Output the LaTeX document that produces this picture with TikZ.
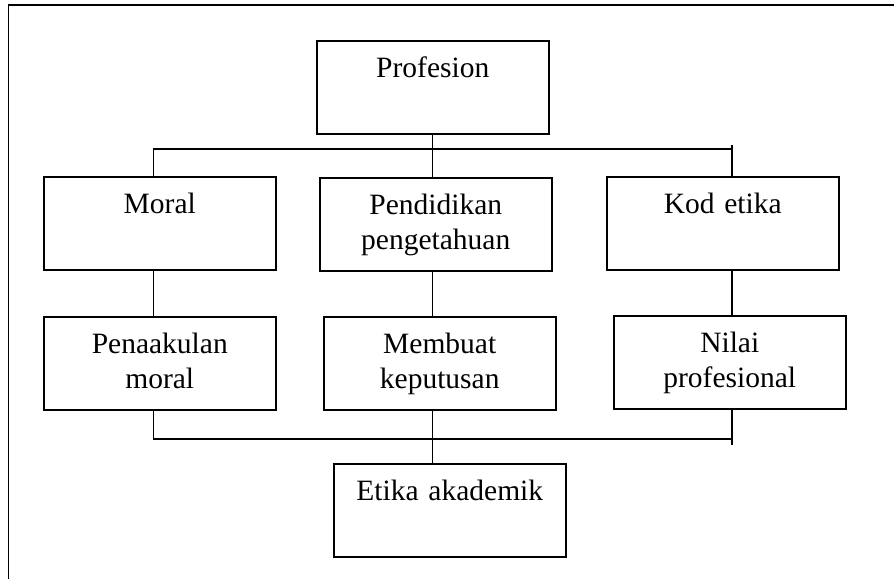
\documentclass[tikz,border=0pt]{standalone}
\usepackage{fontspec}
\setmainfont{Liberation Serif}
\tikzset{
  kotak/.style={draw,line width=1.5pt,inner sep=0pt,text width=232pt,align=center,
    text height=37pt,text depth=56pt,anchor=north west,
    font=\fontsize{29.5}{35}\selectfont},
  garis/.style={line width=1.4pt}
}
\begin{document}
\begin{tikzpicture}[x=1pt,y=-1pt]
      \useasboundingbox (0,0) rectangle (894,579);
      \draw[line width=1.5pt] (8.5,579) -- (8.5,5) -- (894,5);
      \node[kotak] (profesion) at (316,40) {Profesion};
      \node[kotak] (moral) at (43,176) {Moral};
      \node[kotak] (pendidikan) at (319,177) {Pendidikan\\pengetahuan};
      \node[kotak] (kod) at (606,176) {Kod etika};
      \node[kotak] (penaakulan) at (43,316) {Penaakulan\\moral};
      \node[kotak] (membuat) at (323,316) {Membuat\\keputusan};
      \node[kotak] (nilai) at (613,315) {Nilai\\profesional};
      \node[kotak] (etika) at (333,463) {Etika akademik};
      \coordinate (kiri) at (153.5,149);
      \coordinate (tengah) at (432.7,149);
      \coordinate (kanan) at (732,149);
      \coordinate (bawah) at (0,439);
      \draw[garis] (profesion.south -| tengah) -- (pendidikan.north -| tengah);
      \draw[garis] (moral.north -| kiri) -- (kiri) -- (kanan);
      \draw[garis] (kod.north -| kanan) -- ++(0,-31);
      \foreach \atas/\bawah/\x in {moral/penaakulan/kiri,pendidikan/membuat/tengah,kod/nilai/kanan}{
      \draw[garis] (\atas.south -| \x) -- (\bawah.north -| \x);
      }
      \draw[garis] (penaakulan.south -| kiri) -- (kiri |- bawah) -- (kanan |- bawah);
      \draw[garis] (nilai.south -| kanan) -- ++(0,35);
      \draw[garis] (membuat.south -| tengah) -- (etika.north -| tengah);
\end{tikzpicture}
\end{document}
